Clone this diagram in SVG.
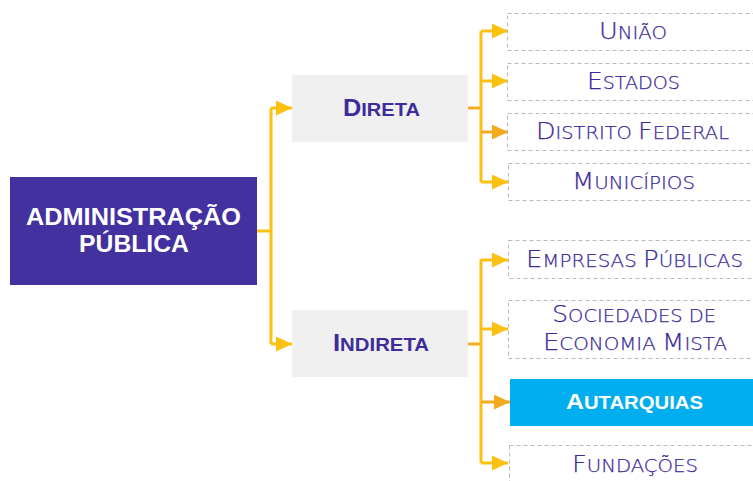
<svg xmlns="http://www.w3.org/2000/svg" width="753" height="481" viewBox="0 0 753 481">
<style>
.root{fill:#43319f}
.grp{fill:#f0f0f0}
.leaf{fill:#fff;stroke:#b8b8b8;stroke-width:1;stroke-dasharray:4 3}
.hl{fill:#00aeef}
.wt{font-family:"Liberation Sans",Arial,sans-serif;font-weight:bold;font-size:24px;fill:#fff;text-anchor:middle}
.gt{font-family:"Liberation Sans",Arial,sans-serif;font-weight:bold;font-size:24px;fill:#3d2d9c;text-anchor:middle}
.lt{font-family:"DejaVu Sans",sans-serif;font-weight:200;font-size:23.5px;fill:#3a2a9a;stroke:#3a2a9a;stroke-width:0.25;text-anchor:middle}
.sc{font-size:18px}
.sg{font-size:19px}
.con{fill:none;stroke:#fcc010;stroke-width:3}
.con2{fill:none;stroke:#f2aa1e;stroke-width:3}
</style>
<defs>
<marker id="ah" viewBox="0 0 16 15" refX="16" refY="7.5" markerWidth="16" markerHeight="15" markerUnits="userSpaceOnUse" orient="auto"><path d="M0,0L16,7.5L0,15Z" fill="#fcc010"/></marker>
<marker id="ah2" viewBox="0 0 16 15" refX="16" refY="7.5" markerWidth="16" markerHeight="15" markerUnits="userSpaceOnUse" orient="auto"><path d="M0,0L16,7.5L0,15Z" fill="#f2aa1e"/></marker>
</defs>
<g id="connectors">
<path class="con" d="M257,231H271"/>
<path class="con" d="M271,108V344"/>
<path class="con" d="M271,108H292" marker-end="url(#ah)"/>
<path class="con" d="M271,344H292" marker-end="url(#ah)"/>
<path class="con2" d="M468,108H481"/>
<path class="con" d="M481,31V182"/>
<path class="con" d="M481,31H508" marker-end="url(#ah)"/>
<path class="con" d="M481,81H508" marker-end="url(#ah)"/>
<path class="con2" d="M481,132H508" marker-end="url(#ah2)"/>
<path class="con" d="M481,182H508" marker-end="url(#ah)"/>
<path class="con2" d="M468,344H481"/>
<path class="con" d="M481,259V463"/>
<path class="con" d="M481,260H508" marker-end="url(#ah)"/>
<path class="con" d="M481,329H508" marker-end="url(#ah)"/>
<path class="con2" d="M481,402H510" marker-end="url(#ah2)"/>
<path class="con" d="M481,463H508" marker-end="url(#ah)"/>
</g>
<g id="admin">
<rect class="root" x="10" y="177" width="247" height="108"/>
<text class="wt" x="133.5" y="225" textLength="215" lengthAdjust="spacingAndGlyphs">ADMINISTRAÇÃO</text>
<text class="wt" x="134" y="252" textLength="110" lengthAdjust="spacingAndGlyphs">PÚBLICA</text>
</g>
<g id="direta">
<rect class="grp" x="292" y="75" width="176" height="67"/>
<text class="gt" x="381.5" y="116" textLength="77" lengthAdjust="spacingAndGlyphs">D<tspan class="sg">IRETA</tspan></text>
</g>
<g id="indireta">
<rect class="grp" x="292" y="310" width="176" height="67"/>
<text class="gt" x="381" y="351" textLength="96" lengthAdjust="spacingAndGlyphs">I<tspan class="sg">NDIRETA</tspan></text>
</g>
<g id="uniao">
<rect class="leaf" x="507.5" y="13.5" width="260" height="37"/>
<text class="lt" x="633" y="39" textLength="68" lengthAdjust="spacingAndGlyphs">U<tspan class="sc">NIÃO</tspan></text>
</g>
<g id="estados">
<rect class="leaf" x="507.5" y="63.5" width="260" height="37"/>
<text class="lt" x="633.5" y="89" textLength="93" lengthAdjust="spacingAndGlyphs">E<tspan class="sc">STADOS</tspan></text>
</g>
<g id="distrito">
<rect class="leaf" x="507.5" y="113.5" width="260" height="37"/>
<text class="lt" x="632.5" y="139" textLength="193" lengthAdjust="spacingAndGlyphs">D<tspan class="sc">ISTRITO </tspan>F<tspan class="sc">EDERAL</tspan></text>
</g>
<g id="municipios">
<rect class="leaf" x="508.5" y="163.5" width="260" height="37"/>
<text class="lt" x="633.5" y="189" textLength="123" lengthAdjust="spacingAndGlyphs">M<tspan class="sc">UNICÍPIOS</tspan></text>
</g>
<g id="empresas">
<rect class="leaf" x="508.5" y="240.5" width="260" height="38"/>
<text class="lt" x="634.5" y="267" textLength="217" lengthAdjust="spacingAndGlyphs">E<tspan class="sc">MPRESAS </tspan>P<tspan class="sc">ÚBLICAS</tspan></text>
</g>
<g id="sociedades">
<rect class="leaf" x="508.5" y="300.5" width="260" height="58"/>
<text class="lt" x="634" y="322" textLength="164" lengthAdjust="spacingAndGlyphs">S<tspan class="sc">OCIEDADES DE</tspan></text>
<text class="lt" x="635" y="350" textLength="184" lengthAdjust="spacingAndGlyphs">E<tspan class="sc">CONOMIA </tspan>M<tspan class="sc">ISTA</tspan></text>
</g>
<g id="autarquias">
<rect class="hl" x="510" y="379" width="250" height="47"/>
<text class="wt" x="634.5" y="409" style="font-size:22px" textLength="137" lengthAdjust="spacingAndGlyphs">A<tspan class="sc">UTARQUIAS</tspan></text>
</g>
<g id="fundacoes">
<rect class="leaf" x="509.5" y="445.5" width="260" height="50"/>
<text class="lt" x="635" y="472" textLength="126" lengthAdjust="spacingAndGlyphs">F<tspan class="sc">UNDAÇÕES</tspan></text>
</g>
</svg>
